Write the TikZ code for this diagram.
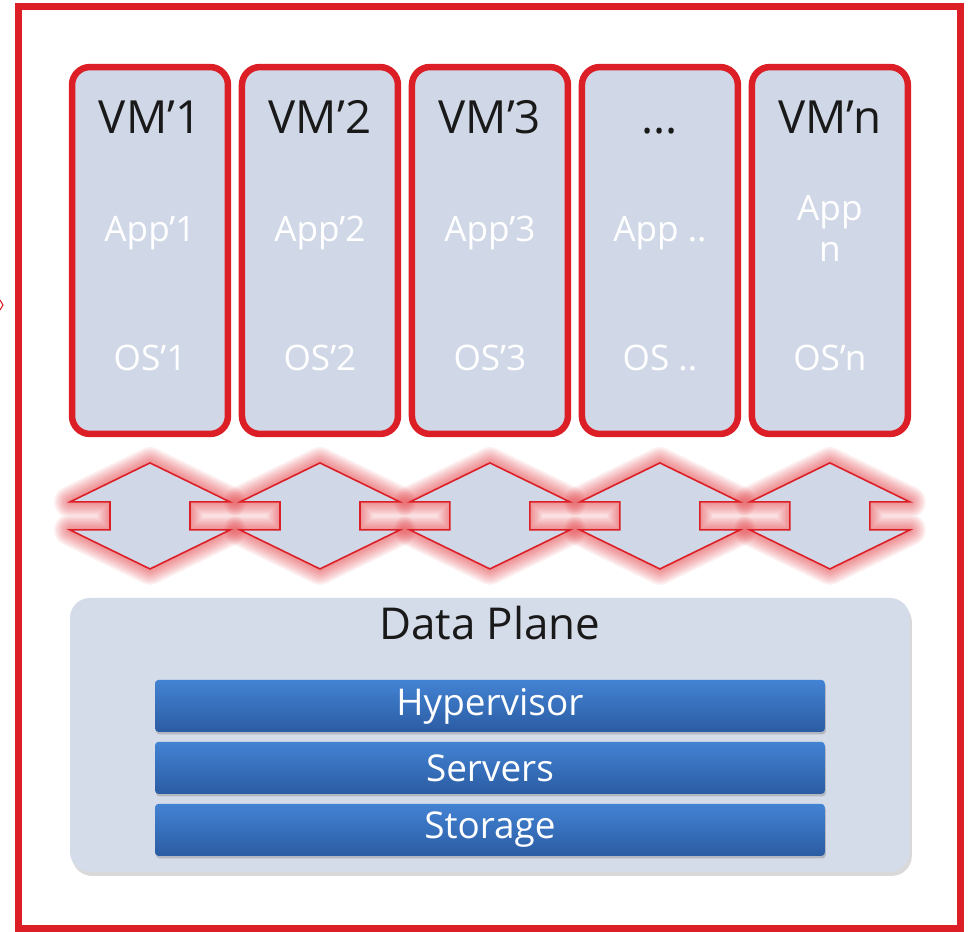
\documentclass[tikz,border=0pt]{standalone}
\usepackage{fontspec}
\setmainfont{Open Sans}
\usetikzlibrary{positioning,shadows}

\definecolor{vmred}{HTML}{DC1F26}
\definecolor{vmfill}{HTML}{D0D8E7}
\definecolor{planefill}{HTML}{D5DCE9}
\definecolor{bartop}{HTML}{4383D3}
\definecolor{barbot}{HTML}{2B5CA3}

\tikzset{
  frame/.style={draw=vmred, line width=4pt, minimum width=18.84cm, minimum height=18.44cm, outer sep=0pt},
  vm/.style={draw=vmred, fill=vmfill, line width=3.7pt, rounded corners=0.36cm, minimum width=3.12cm, minimum height=7.34cm, outer sep=0pt},
  vmtitle/.style={anchor=base, text=black!90, font=\fontsize{26}{30}\selectfont},
  vmtext/.style={anchor=base, text=white, font=\fontsize{20}{24}\selectfont},
  plane/.style={fill=planefill, rounded corners=0.4cm, minimum width=16.8cm, minimum height=5.48cm, outer sep=0pt,
    drop shadow={opacity=0.3, shadow xshift=0.04cm, shadow yshift=-0.08cm}},
  planetitle/.style={anchor=base, text=black!90, font=\fontsize{25}{30}\selectfont},
  layer/.style={top color=bartop, bottom color=barbot, rounded corners=2pt, minimum width=13.4cm, minimum height=1.04cm,
    outer sep=0pt, text=white, font=\fontsize{21}{25}\selectfont,
    drop shadow={opacity=0.4, shadow xshift=0.02cm, shadow yshift=-0.05cm}},
  vmlink/.pic={
    % soft red glow
    \foreach \w in {2,4,...,18}
      \draw[vmred, line width=\w pt, opacity=0.07, line join=round]
        (0,-53) -- (-80,-14) -- (-40,-14) -- (-40,14) -- (-80,14) -- (0,53)
        -- (80,14) -- (40,14) -- (40,-14) -- (80,-14) -- cycle;
    \draw[vmred, fill=vmfill, line width=0.9pt, line join=miter]
        (0,-53) -- (-80,-14) -- (-40,-14) -- (-40,14) -- (-80,14) -- (0,53)
        -- (80,14) -- (40,14) -- (40,-14) -- (80,-14) -- cycle;
  }
}

\begin{document}
\begin{tikzpicture}[x=0.02cm,y=-0.02cm,node distance=0.28cm]
\useasboundingbox (0,0) rectangle (974,932);
\node[frame] (frame) at (489.5,467.5) {};
\draw[vmred, line width=0.6pt] (0,300) -- (3,305) -- (0,310);

% virtual machines
\node[vm] (vm1) at (150,250.5) {};
\node[vm, right=of vm1] (vm2) {};
\node[vm, right=of vm2] (vm3) {};
\node[vm, right=of vm3] (vm4) {};
\node[vm, right=of vm4] (vm5) {};

\node[vmtitle] (t1) at ([yshift=-1.32cm]vm1.north) {VM'1};
\node[vmtitle] (t2) at ([yshift=-1.32cm]vm2.north) {VM'2};
\node[vmtitle] (t3) at ([yshift=-1.32cm]vm3.north) {VM'3};
\node[vmtitle] (t4) at ([yshift=-1.32cm]vm4.north) {...};
\node[vmtitle] (t5) at ([yshift=-1.32cm]vm5.north) {VM'n};

\node[vmtext] (a1) at ([yshift=-3.5cm]vm1.north) {App'1};
\node[vmtext] (a2) at ([yshift=-3.5cm]vm2.north) {App'2};
\node[vmtext] (a3) at ([yshift=-3.5cm]vm3.north) {App'3};
\node[vmtext] (a4) at ([yshift=-3.5cm]vm4.north) {App ..};
\node[vmtext] (a5) at ([yshift=-3.06cm]vm5.north) {App};
\node[vmtext] (a5n) at ([yshift=-3.9cm]vm5.north) {n};

\node[vmtext] (o1) at ([yshift=-6.08cm]vm1.north) {OS'1};
\node[vmtext] (o2) at ([yshift=-6.08cm]vm2.north) {OS'2};
\node[vmtext] (o3) at ([yshift=-6.08cm]vm3.north) {OS'3};
\node[vmtext] (o4) at ([yshift=-6.08cm]vm4.north) {OS ..};
\node[vmtext] (o5) at ([yshift=-6.08cm]vm5.north) {OS'n};

% links between the machines
\pic (l1) at ([yshift=-1.64cm]vm1.south) {vmlink};
\pic (l2) at ([yshift=-1.64cm]vm2.south) {vmlink};
\pic (l3) at ([yshift=-1.64cm]vm3.south) {vmlink};
\pic (l4) at ([yshift=-1.64cm]vm4.south) {vmlink};
\pic (l5) at ([yshift=-1.64cm]vm5.south) {vmlink};

% data plane
\node[plane, anchor=north] (plane) at ([yshift=-3.28cm]vm3.south) {};
\node[planetitle] (ptitle) at ([yshift=-0.84cm]plane.north) {Data Plane};
\node[layer, anchor=north] (hyp) at ([yshift=-1.64cm]plane.north) {Hypervisor};
\node[layer, below=0.2cm of hyp] (srv) {Servers};
\node[layer, below=0.2cm of srv] (sto) {Storage};
\end{tikzpicture}
\end{document}
